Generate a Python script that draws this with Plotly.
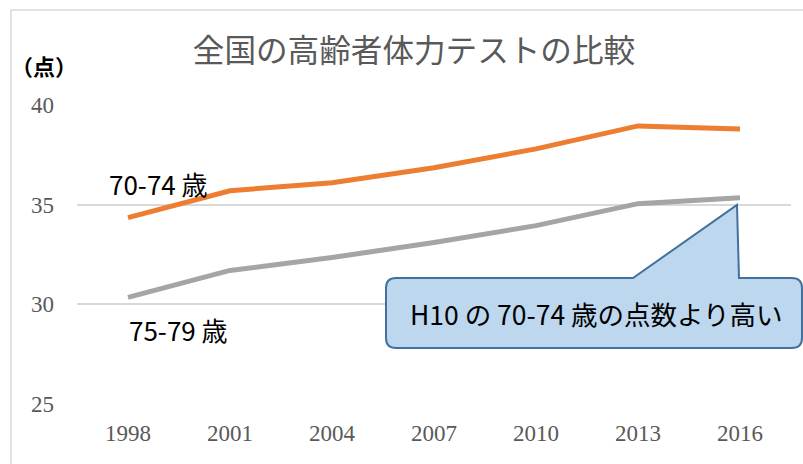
import plotly.graph_objects as go

years = [1998, 2001, 2004, 2007, 2010, 2013, 2016]
age_70_74 = [34.35, 35.7, 36.1, 36.85, 37.8, 38.95, 38.8]
age_75_79 = [30.35, 31.7, 32.35, 33.1, 33.95, 35.05, 35.35]
y_ticks = [25, 30, 35, 40]
title_text = "全国の高齢者体力テストの比較"
y_unit = "（点）"
label_70 = "70-74 歳"
label_75 = "75-79 歳"
callout_text = "H10 の 70-74 歳の点数より高い"

W, H = 803, 464
L, R, T, B = 77, 12, 105, 60
PW, PH = W - L - R, H - T - B


def px(xp, yp):
    """pixel -> paper coordinates string"""
    return f"{(xp - L) / PW:.5f},{(H - B - yp) / PH:.5f}"


def pxx(xp):
    return (xp - L) / PW


def pxy(yp):
    return (H - B - yp) / PH


cjk = "Noto Sans CJK JP, sans-serif"
serif = "Liberation Serif, DejaVu Serif, serif"

fig = go.Figure()
fig.add_trace(go.Scatter(x=years, y=age_75_79, mode="lines", name="75-79",
                         line=dict(color="#A5A5A5", width=5), hoverinfo="skip"))
fig.add_trace(go.Scatter(x=years, y=age_70_74, mode="lines", name="70-74",
                         line=dict(color="#ED7D31", width=5), hoverinfo="skip"))

# callout shape
l, t, r, b, rad = 386, 278, 802, 348, 10
path = (f"M {px(l + rad, t)} L {px(633, t)} L {px(737, 205)} L {px(739, t)} "
        f"L {px(r - rad, t)} Q {px(r, t)} {px(r, t + rad)} L {px(r, b - rad)} "
        f"Q {px(r, b)} {px(r - rad, b)} L {px(l + rad, b)} Q {px(l, b)} {px(l, b - rad)} "
        f"L {px(l, t + rad)} Q {px(l, t)} {px(l + rad, t)} Z")

shapes = [
    dict(type="rect", xref="paper", yref="paper", x0=pxx(11), y0=pxy(10), x1=pxx(900), y1=pxy(600),
         line=dict(color="#D9D9D9", width=1.5), fillcolor="rgba(0,0,0,0)", layer="below"),
    dict(type="path", xref="paper", yref="paper", path=path,
         fillcolor="#BDD7EE", line=dict(color="#41719C", width=2), layer="above"),
]

annotations = [
    dict(text="<b>" + y_unit + "</b>", xref="paper", yref="paper", x=pxx(44), y=pxy(65), showarrow=False,
         font=dict(family=cjk, size=22, color="#000000"), xanchor="center", yanchor="middle"),
    dict(text=label_70, xref="paper", yref="paper", x=pxx(158), y=pxy(183), showarrow=False,
         font=dict(family=cjk, size=26, color="#000000"), xanchor="center", yanchor="middle"),
    dict(text=label_75, xref="paper", yref="paper", x=pxx(178), y=pxy(329), showarrow=False,
         font=dict(family=cjk, size=26, color="#000000"), xanchor="center", yanchor="middle"),
    dict(text=callout_text, xref="paper", yref="paper", x=pxx(596), y=pxy(313), showarrow=False,
         font=dict(family=cjk, size=26.5, color="#000000"), xanchor="center", yanchor="middle"),
]

fig.update_layout(
    width=W, height=H,
    margin=dict(l=L, r=R, t=T, b=B),
    paper_bgcolor="white", plot_bgcolor="white",
    showlegend=False,
    title=dict(text=title_text, xref="container", yref="container", x=414 / W, y=1 - 51 / H,
               xanchor="center", yanchor="middle",
               font=dict(family=cjk, size=31.6, color="#595959")),
    xaxis=dict(range=[1996.5, 2017.5], tickvals=years, ticktext=[str(y) for y in years],
               showgrid=False, zeroline=False, showline=False, ticks="",
               tickfont=dict(family=serif, size=23, color="#595959"), ticklabelstandoff=13,
               fixedrange=True),
    yaxis=dict(range=[25, 40], tickvals=y_ticks, showgrid=True, gridcolor="#D9D9D9", gridwidth=1.5,
               zeroline=False, showline=False, ticks="",
               tickfont=dict(family=serif, size=23, color="#595959"), ticklabelstandoff=22,
               fixedrange=True),
    shapes=shapes,
    annotations=annotations,
)

fig.write_html("out.html", config={"displayModeBar": False},
               post_script="document.body.style.margin='0px';")
